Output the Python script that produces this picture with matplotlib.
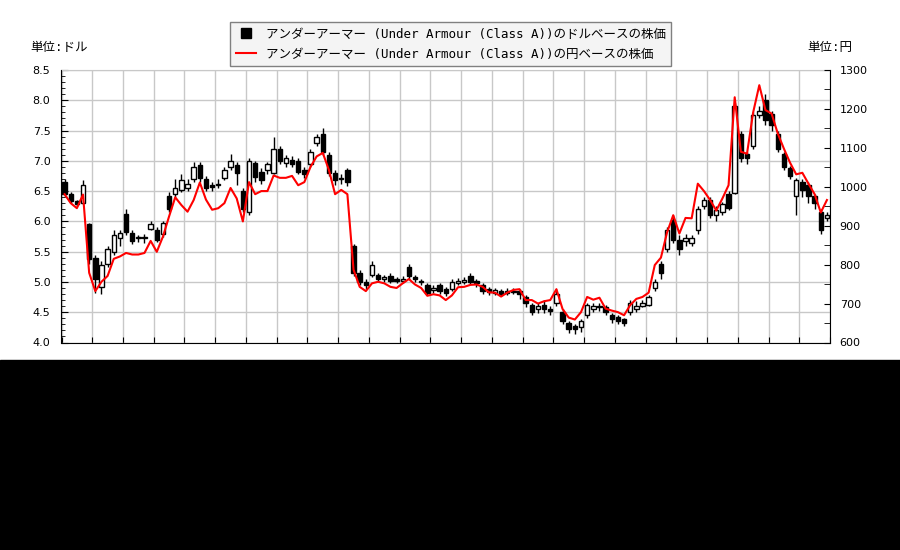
import numpy as np
import matplotlib
matplotlib.use('Agg')
import matplotlib.pyplot as plt
from matplotlib.lines import Line2D
from matplotlib.patches import Rectangle
from matplotlib.ticker import MultipleLocator, FormatStrFormatter

plt.rcParams['font.family'] = ['DejaVu Sans Mono', 'Noto Sans CJK JP']

# ドルベースの株価 (四本値)
opens = [6.65, 6.45, 6.33, 6.30, 5.95, 5.40, 4.92, 5.30, 5.50, 5.72,
         6.12, 5.80, 5.72, 5.72, 5.88, 5.86, 5.80, 6.42, 6.45, 6.52,
         6.55, 6.70, 6.93, 6.70, 6.60, 6.60, 6.72, 6.90, 6.93, 6.50,
         6.16, 6.97, 6.82, 6.85, 6.80, 7.20, 6.97, 7.02, 7.00, 6.85,
         6.95, 7.30, 7.45, 7.10, 6.80, 6.70, 6.85, 5.60, 5.15, 5.00,
         5.12, 5.12, 5.05, 5.10, 5.05, 5.02, 5.25, 5.08, 5.00, 4.95,
         4.86, 4.95, 4.88, 4.88, 4.98, 5.00, 5.10, 5.02, 4.95, 4.88,
         4.82, 4.85, 4.82, 4.85, 4.85, 4.75, 4.62, 4.55, 4.62, 4.55,
         4.65, 4.50, 4.32, 4.28, 4.25, 4.45, 4.55, 4.60, 4.58, 4.45,
         4.42, 4.38, 4.50, 4.55, 4.60, 4.62, 4.90, 5.30, 5.55, 6.02,
         5.70, 5.68, 5.65, 5.85, 6.25, 6.35, 6.10, 6.15, 6.45, 6.47,
         7.45, 7.12, 7.25, 7.75, 8.00, 7.78, 7.45, 7.12, 6.88, 6.42,
         6.65, 6.60, 6.42, 6.15, 6.05]
closes = [6.45, 6.33, 6.28, 6.60, 5.38, 5.05, 5.28, 5.55, 5.78, 5.80,
          5.82, 5.68, 5.75, 5.74, 5.96, 5.70, 5.97, 6.20, 6.55, 6.69,
          6.62, 6.90, 6.72, 6.55, 6.56, 6.62, 6.85, 7.00, 6.80, 6.20,
          7.00, 6.73, 6.68, 6.95, 7.20, 7.00, 7.05, 6.95, 6.82, 6.78,
          7.15, 7.40, 7.15, 6.80, 6.68, 6.72, 6.65, 5.15, 5.00, 4.95,
          5.28, 5.05, 5.08, 5.02, 5.02, 5.05, 5.10, 5.05, 5.00, 4.82,
          4.90, 4.85, 4.82, 5.00, 5.02, 5.04, 5.00, 4.98, 4.85, 4.84,
          4.86, 4.80, 4.85, 4.84, 4.80, 4.65, 4.50, 4.60, 4.55, 4.52,
          4.80, 4.35, 4.22, 4.22, 4.35, 4.62, 4.60, 4.58, 4.50, 4.38,
          4.35, 4.32, 4.65, 4.60, 4.65, 4.75, 5.00, 5.15, 5.85, 5.70,
          5.55, 5.72, 5.72, 6.20, 6.35, 6.10, 6.18, 6.28, 6.22, 7.90,
          7.05, 7.05, 7.75, 7.82, 7.68, 7.60, 7.20, 6.90, 6.75, 6.68,
          6.52, 6.42, 6.30, 5.85, 6.10]
highs = [6.70, 6.48, 6.36, 6.68, 5.98, 5.45, 5.35, 5.60, 5.85, 5.85,
         6.20, 5.85, 5.78, 5.80, 6.00, 5.90, 6.00, 6.48, 6.70, 6.78,
         6.70, 6.98, 6.98, 6.75, 6.65, 6.70, 6.90, 7.12, 6.98, 6.55,
         7.05, 7.00, 6.88, 6.98, 7.40, 7.25, 7.10, 7.08, 7.05, 6.90,
         7.20, 7.45, 7.55, 7.15, 6.85, 6.78, 6.88, 5.62, 5.20, 5.05,
         5.35, 5.15, 5.12, 5.15, 5.08, 5.10, 5.30, 5.12, 5.05, 4.98,
         4.95, 4.98, 4.92, 5.05, 5.06, 5.08, 5.14, 5.05, 4.98, 4.92,
         4.90, 4.88, 4.90, 4.90, 4.88, 4.78, 4.65, 4.65, 4.70, 4.60,
         4.88, 4.55, 4.35, 4.30, 4.38, 4.66, 4.66, 4.65, 4.62, 4.48,
         4.45, 4.40, 4.70, 4.68, 4.70, 4.78, 5.05, 5.35, 5.90, 6.10,
         5.78, 5.80, 5.78, 6.25, 6.40, 6.40, 6.25, 6.32, 6.50, 7.95,
         7.50, 7.15, 7.80, 7.90, 8.10, 7.82, 7.50, 7.15, 6.92, 6.72,
         6.70, 6.65, 6.45, 6.20, 6.15]
lows = [6.40, 6.30, 6.25, 6.28, 5.30, 4.82, 4.80, 5.25, 5.45, 5.60,
        5.78, 5.62, 5.66, 5.65, 5.85, 5.66, 5.75, 6.15, 6.40, 6.48,
        6.50, 6.65, 6.65, 6.50, 6.50, 6.55, 6.68, 6.85, 6.60, 6.15,
        6.10, 6.65, 6.62, 6.78, 6.78, 6.95, 6.90, 6.90, 6.78, 6.72,
        6.90, 7.25, 7.10, 6.75, 6.60, 6.62, 6.58, 5.10, 4.95, 4.88,
        5.08, 5.00, 5.00, 4.98, 4.98, 4.98, 5.05, 5.00, 4.95, 4.78,
        4.82, 4.80, 4.76, 4.85, 4.95, 4.96, 4.96, 4.92, 4.80, 4.78,
        4.78, 4.76, 4.78, 4.80, 4.72, 4.58, 4.45, 4.48, 4.48, 4.45,
        4.60, 4.30, 4.15, 4.14, 4.18, 4.40, 4.50, 4.52, 4.45, 4.32,
        4.30, 4.28, 4.45, 4.50, 4.58, 4.60, 4.85, 5.05, 5.50, 5.65,
        5.45, 5.60, 5.60, 5.80, 6.20, 6.05, 6.00, 6.10, 6.18, 6.45,
        6.98, 6.95, 7.20, 7.70, 7.60, 7.50, 7.15, 6.85, 6.70, 6.10,
        6.40, 6.30, 6.20, 5.80, 6.00]

# 円ベースの株価 (終値)
yen = [981, 958, 945, 980, 779, 732, 756, 771, 815, 821,
       830, 826, 826, 830, 861, 833, 872, 924, 973, 953,
       936, 966, 1011, 967, 941, 945, 958, 997, 970, 911,
       1012, 981, 989, 989, 1029, 1023, 1023, 1028, 1004, 1012,
       1051, 1078, 1087, 1043, 981, 992, 981, 787, 743, 732,
       752, 756, 752, 743, 740, 752, 763, 749, 740, 720,
       724, 721, 709, 721, 742, 743, 748, 749, 743, 729,
       728, 718, 728, 735, 737, 709, 709, 700, 706, 709,
       737, 686, 664, 659, 678, 717, 710, 715, 687, 682,
       678, 670, 696, 712, 717, 728, 799, 818, 883, 927,
       880, 920, 919, 1008, 989, 966, 939, 970, 1004, 1230,
       1090, 1085, 1191, 1261, 1197, 1188, 1137, 1098, 1062, 1032,
       1036, 1008, 981, 934, 966]

label_usd = 'アンダーアーマー (Under Armour (Class A))のドルベースの株価'
label_jpy = 'アンダーアーマー (Under Armour (Class A))の円ベースの株価'

n = len(closes)
idx = np.arange(n)
o = np.array(opens)
c = np.array(closes)
h = np.array(highs)
l = np.array(lows)
up = c >= o

fig = plt.figure(figsize=(9, 5.5), dpi=100)
fig.patches.append(Rectangle((0, 0), 1, 190 / 550, transform=fig.transFigure,
                             color='black', zorder=0))
ax = fig.add_axes([61.5 / 900, 207.5 / 550, 768.5 / 900, 272.5 / 550])

# ローソク足
ax.vlines(idx, l, h, color='black', lw=1, zorder=2)
bottoms = np.minimum(o, c)
heights = np.maximum(np.abs(c - o), 0.015)
ax.bar(idx, heights, bottom=bottoms, width=0.72,
       color=np.where(up, 'white', 'black'), edgecolor='black', lw=1, zorder=3)

ax.set_xlim(-0.5, n - 0.5)
ax.set_ylim(4.0, 8.5)
ax.set_xticks(np.arange(-0.5, n, 5))
ax.set_xticklabels([])
ax.yaxis.set_major_locator(MultipleLocator(0.5))
ax.yaxis.set_minor_locator(MultipleLocator(0.1))
ax.yaxis.set_major_formatter(FormatStrFormatter('%.1f'))
ax.grid(True, color='#c8c8c8', lw=1)
ax.set_axisbelow(True)
ax.tick_params(axis='y', which='major', direction='in', length=5, labelsize=8, pad=8)
ax.tick_params(axis='y', which='minor', direction='in', length=3)
ax.tick_params(axis='x', direction='in', length=4)
for lab in ax.get_yticklabels():
    lab.set_family('DejaVu Sans')
ax.spines['top'].set_color('#c8c8c8')
ax.spines['right'].set_visible(False)

# 円ベース
ax2 = ax.twinx()
ax2.plot(idx, yen, color='red', lw=1.5)
ax2.set_ylim(600, 1300)
ax2.yaxis.set_major_locator(MultipleLocator(100))
ax2.yaxis.set_minor_locator(MultipleLocator(50))
ax2.tick_params(axis='y', which='major', direction='in', length=4, labelsize=8, pad=7)
ax2.tick_params(axis='y', which='minor', direction='in', length=4)
for lab in ax2.get_yticklabels():
    lab.set_family('DejaVu Sans')
ax2.spines['top'].set_visible(False)
ax2.spines['left'].set_visible(False)
ax2.spines['bottom'].set_visible(False)

fig.text(30 / 900, 1 - 47 / 550, '単位:ドル', fontsize=9, va='center', ha='left')
fig.text(852 / 900, 1 - 47 / 550, '単位:円', fontsize=9, va='center', ha='right')

handles = [Line2D([], [], marker='s', color='black', linestyle='none', markersize=7),
           Line2D([], [], color='red', lw=1.5)]
leg = fig.legend(handles, [label_usd, label_jpy], loc='upper center',
                 bbox_to_anchor=(450.5 / 900, 1 - 22 / 550), fontsize=9,
                 frameon=True, fancybox=False, edgecolor='#808080',
                 facecolor='#f4f4f4', framealpha=1, borderpad=0.45,
                 labelspacing=0.55, handlelength=1.6, handletextpad=0.8,
                 borderaxespad=0)
leg.get_frame().set_linewidth(1)

fig.savefig('out.png', dpi=100)
